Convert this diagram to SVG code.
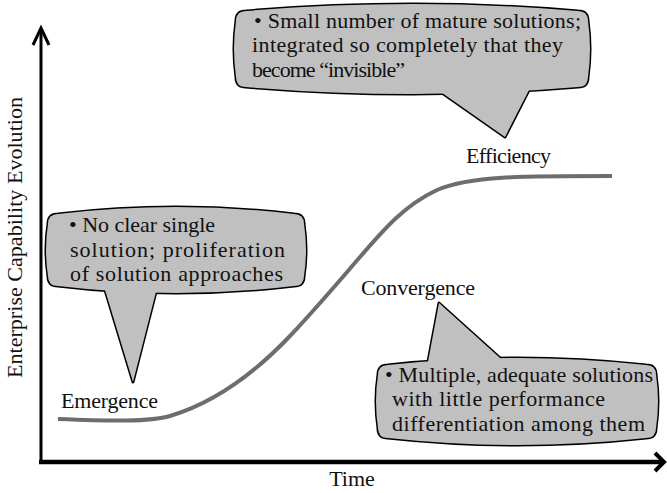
<svg xmlns="http://www.w3.org/2000/svg" xmlns:xlink="http://www.w3.org/1999/xlink" width="667" height="493" viewBox="0 0 667 493">
  <style>
    .txt { font-family: "Liberation Serif", "DejaVu Serif", serif; font-size: 22px; fill: #111; }
    .axis { stroke: #000; fill: none; }
    .curve { stroke: #6d6d6d; stroke-width: 4; fill: none; }
    .outline { fill: #000; stroke: #000; stroke-width: 3; stroke-linejoin: round; }
    .body { fill: #c0c0c0; stroke: none; }
  </style>
  <defs>
    <!-- callout bodies: rounded boxes with slightly bulging edges -->
    <path id="boxA" d="M246,11 Q412,-3 578,11 Q588,11 588,21 Q592,49 588,77 Q588,87 578,87 Q412,101 246,87 Q236,87 236,77 Q232,49 236,21 Q236,11 246,11 Z"/>
    <polygon id="tailA" points="435,88 530,88 505,137"/>
    <path id="boxB" d="M58,214 Q176,200 294,214 Q304,214 304,224 Q308,250 304,276 Q304,286 294,286 Q176,300 58,286 Q48,286 48,276 Q44,250 48,224 Q48,214 58,214 Z"/>
    <polygon id="tailB" points="102,280 159,280 133,382"/>
    <path id="boxC" d="M388,365 Q517,351 646,365 Q656,365 656,375 Q660,401 656,428 Q656,438 646,438 Q517,452 388,438 Q378,438 378,428 Q374,401 378,375 Q378,365 388,365 Z"/>
    <polygon id="tailC" points="427,367 510,367 439,303"/>
  </defs>

  <!-- axes -->
  <g id="axes">
    <line class="axis" x1="41" y1="462" x2="41" y2="29" stroke-width="3"/>
    <polyline class="axis" points="33,45 41,28 49,45" stroke-width="3"/>
    <line class="axis" x1="39" y1="462" x2="664" y2="462" stroke-width="4.5"/>
    <polyline class="axis" points="655,453 664,462 655,471" stroke-width="4"/>
    <text class="txt" x="352" y="486" text-anchor="middle">Time</text>
    <text class="txt" transform="translate(22,378) rotate(-90)" textLength="281">Enterprise Capability Evolution</text>
  </g>

  <!-- connectors: the capability S-curve -->
  <g id="connectors">
    <path class="curve" d="M58,419 C110,421 150,422 170,416 C210,404 250,378 290,336 C320,304 340,280 360,257 C385,228 405,205 437,190 C470,176 520,176 612,176"/>
  </g>

  <!-- stage labels -->
  <g id="emergence">
    <text class="txt" x="61" y="408" textLength="97">Emergence</text>
  </g>
  <g id="convergence">
    <text class="txt" x="361" y="295" textLength="114">Convergence</text>
  </g>
  <g id="efficiency">
    <text class="txt" x="466" y="163" textLength="85">Efficiency</text>
  </g>

  <!-- callout: efficiency -->
  <g id="callout-efficiency">
    <use xlink:href="#boxA" class="outline"/>
    <use xlink:href="#tailA" class="outline"/>
    <use xlink:href="#boxA" class="body"/>
    <use xlink:href="#tailA" class="body"/>
    <text class="txt" x="254" y="28" textLength="327">• Small number of mature solutions;</text>
    <text class="txt" x="252" y="52" textLength="311">integrated so completely that they</text>
    <text class="txt" x="252" y="77" textLength="153">become “invisible”</text>
  </g>

  <!-- callout: emergence -->
  <g id="callout-emergence">
    <use xlink:href="#boxB" class="outline"/>
    <use xlink:href="#tailB" class="outline"/>
    <use xlink:href="#boxB" class="body"/>
    <use xlink:href="#tailB" class="body"/>
    <text class="txt" x="69" y="232" textLength="146">• No clear single</text>
    <text class="txt" x="70" y="257" textLength="215">solution; proliferation</text>
    <text class="txt" x="70" y="281" textLength="213">of solution approaches</text>
  </g>

  <!-- callout: convergence -->
  <g id="callout-convergence">
    <use xlink:href="#boxC" class="outline"/>
    <use xlink:href="#tailC" class="outline"/>
    <use xlink:href="#boxC" class="body"/>
    <use xlink:href="#tailC" class="body"/>
    <text class="txt" x="385" y="382" textLength="268">• Multiple, adequate solutions</text>
    <text class="txt" x="392" y="406" textLength="213">with little performance</text>
    <text class="txt" x="392" y="431" textLength="253">differentiation among them</text>
  </g>
</svg>
